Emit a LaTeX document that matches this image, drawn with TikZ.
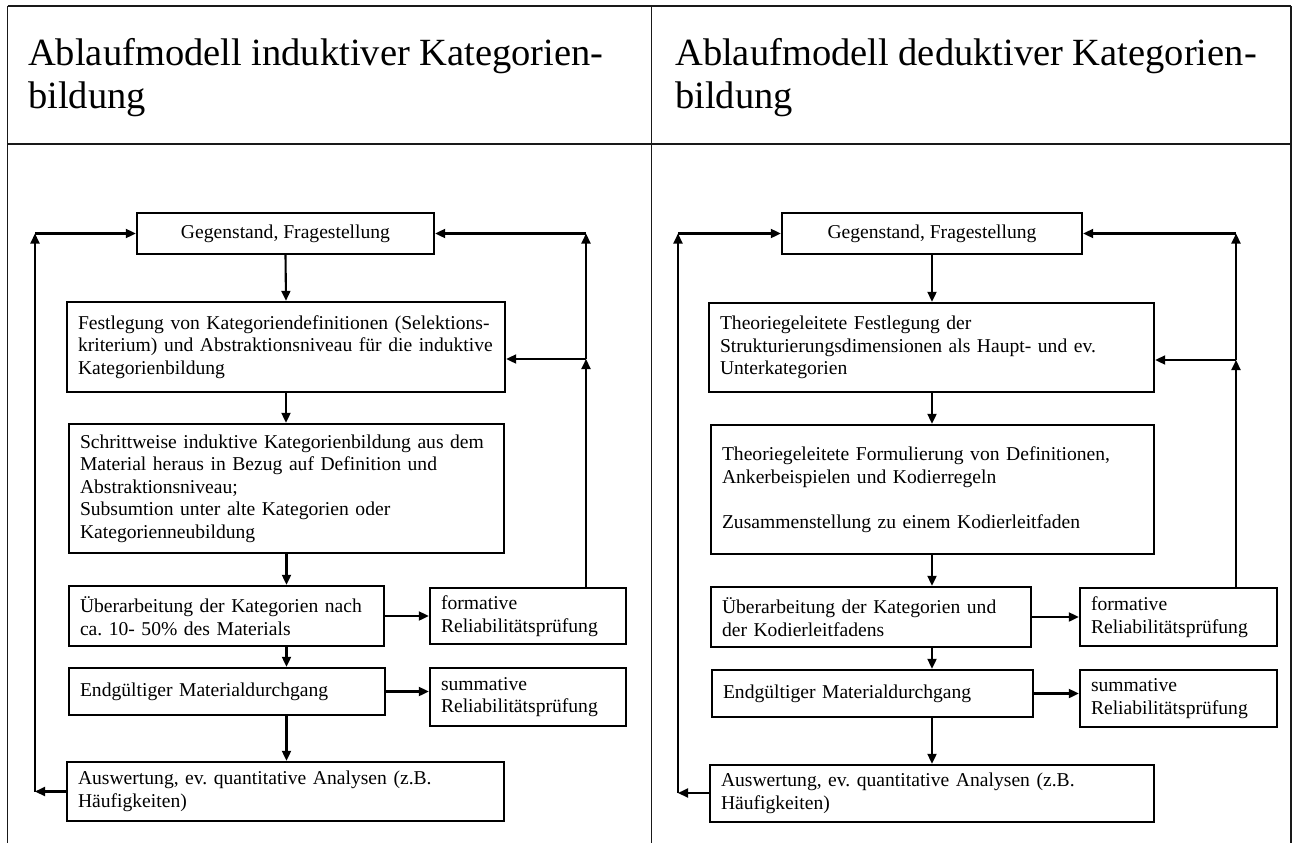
\documentclass[tikz,border=0pt]{standalone}
\usepackage{fontspec}
\setmainfont{Liberation Serif}
\usetikzlibrary{arrows.meta,calc}
\lefthyphenmin=62
\hyphenpenalty=10000
\exhyphenpenalty=10000
\hbadness=10000
\hfuzz=50pt
\frenchspacing
\tikzset{
  box/.style={draw, line width=2.4pt, inner xsep=11pt, inner ysep=0pt, align=left,
    font=\fontsize{19.6}{22.5}\selectfont},
  cbox/.style={draw, line width=2.4pt, inner sep=0pt, align=center,
    font=\fontsize{19.6}{22.5}\selectfont},
  con/.style={line width=2.1pt, -{Triangle[length=10pt,width=9pt]}},
  rule/.style={line width=1.6pt, draw=black!90},
  title/.style={anchor=north west, inner sep=0pt, align=left,
    font=\fontsize{38.5}{43}\selectfont}
}
\newcommand\bx[7][box]{%
  \pgfmathsetmacro\bw{#5-#3}%
  \pgfmathsetmacro\bh{#6-#4}%
  \pgfmathsetmacro\tw{#5-#3-22}%
  \pgfmathsetmacro\cx{(#3+#5)/2}%
  \pgfmathsetmacro\cy{(#4+#6)/2}%
  \node[#1, minimum width=\bw pt, minimum height=\bh pt, text width=\tw pt] (#2) at (\cx,\cy) {#7};}
\newcommand\cbx[6]{%
  \pgfmathsetmacro\bw{#4-#2}%
  \pgfmathsetmacro\bh{#5-#3}%
  \pgfmathsetmacro\cx{(#2+#4)/2}%
  \pgfmathsetmacro\cy{(#3+#5)/2}%
  \node[cbox, minimum width=\bw pt, minimum height=\bh pt] (#1) at (\cx,\cy) {#6};}
\begin{document}
\begin{tikzpicture}[x=1pt,y=-1pt]
\useasboundingbox (0,0) rectangle (1293,843);
% table
\coordinate (tl) at (7.5,6);
\coordinate (tr) at (1291,6);
\coordinate (tm) at (651.5,6);
\coordinate (bl) at (7.5,843);
\coordinate (br) at (1291,843);
\coordinate (bm) at (651.5,843);
\coordinate (hl) at (7.5,144);
\coordinate (hr) at (1291,144);
\draw[rule] (tl) -- (tr);
\draw[rule] (hl) -- (hr);
\draw[rule] (tl) -- (bl);
\draw[rule] (tm) -- (bm);
\draw[rule] (tr) -- (br);
\node[title] (t1) at (28,38) {Ablaufmodell induktiver Kategorien-\\bildung};
\node[title] (t2) at (675,38) {Ablaufmodell deduktiver Kategorien-\\bildung};

% ---------------- left diagram
\cbx{g1}{137}{213}{434}{254}{Gegenstand, Fragestellung}
\bx{f1}{67}{302}{505}{392}{Festlegung~von~Kategoriendefinitionen~(Selektions-\\kriterium)~und~Abstraktionsniveau~für~die~induktive\\Kategorienbildung}
\bx{s1}{69}{424}{504}{553}{Schrittweise~induktive~Kategorienbildung~aus~dem\\Material heraus in Bezug auf Definition und\\Abstraktionsniveau;\\Subsumtion unter alte Kategorien oder\\Kategorienneubildung}
\bx{u1}{69}{586}{384}{646}{Überarbeitung der Kategorien nach\\ca. 10- 50\% des Materials}
\bx{fo1}{430}{588}{626}{644}{formative\\Reliabilitätsprüfung}
\bx{e1}{69}{668}{385}{715}{Endgültiger Materialdurchgang}
\bx{su1}{430}{668}{626}{726}{summative\\Reliabilitätsprüfung}
\bx{a1}{67}{762}{504}{821}{Auswertung, ev. quantitative Analysen (z.B.\\Häufigkeiten)}

\coordinate (L1b) at (35,791.5);
\coordinate (L1t) at (35,233.5);
\coordinate (R1b) at (586,588);
\coordinate (R1m) at (586,359);
\coordinate (R1t) at (586,233.5);

\draw[con] (g1.south) -- (f1.north);
\draw[con] (f1.south) -- (f1.south |- s1.north);
\draw[con] (s1.south) -- (s1.south |- u1.north);
\draw[con] (u1.south -| s1.south) -- (s1.south |- e1.north);
\draw[con] (s1.south |- e1.south) -- (s1.south |- a1.north);
\draw[con] (u1.east) -- (u1.east -| fo1.west);
\draw[con] (e1.east) -- (e1.east -| su1.west);
\draw[con] (a1.west |- L1b) -- (L1b);
\draw[con] (L1b) -- (L1t);
\draw[con] (L1t) -- (g1.west);
\draw[con] (R1b) -- (R1m);
\draw[con] (R1m) -- (R1m -| f1.east);
\draw[con] (R1m) -- (R1t);
\draw[con] (R1t) -- (g1.east);

% ---------------- right diagram
\cbx{g2}{782}{213}{1082}{254}{Gegenstand, Fragestellung}
\bx{f2}{709}{303}{1154}{392}{Theoriegeleitete Festlegung der\\Strukturierungsdimensionen~als~Haupt-~und~ev.\\Unterkategorien}
\bx{s2}{711}{425}{1154}{554}{Theoriegeleitete~Formulierung~von~Definitionen,\\Ankerbeispielen und Kodierregeln\\[22.5pt]Zusammenstellung zu einem Kodierleitfaden}
\bx{u2}{711}{587}{1031}{647}{Überarbeitung der Kategorien und\\der Kodierleitfadens}
\bx{fo2}{1080}{588}{1277}{646}{formative\\Reliabilitätsprüfung}
\bx{e2}{712}{670}{1033}{717}{Endgültiger Materialdurchgang}
\bx{su2}{1080}{670}{1277}{727}{summative\\Reliabilitätsprüfung}
\bx{a2}{710}{765}{1154}{822}{Auswertung, ev. quantitative Analysen (z.B.\\Häufigkeiten)}

\coordinate (L2b) at (678,793);
\coordinate (L2t) at (678,233.5);
\coordinate (R2b) at (1236,588);
\coordinate (R2m) at (1236,360);
\coordinate (R2t) at (1236,233.5);

\draw[con] (g2.south) -- (g2.south |- f2.north);
\draw[con] (g2.south |- f2.south) -- (g2.south |- s2.north);
\draw[con] (g2.south |- s2.south) -- (g2.south |- u2.north);
\draw[con] (g2.south |- u2.south) -- (g2.south |- e2.north);
\draw[con] (g2.south |- e2.south) -- (g2.south |- a2.north);
\draw[con] (u2.east) -- (u2.east -| fo2.west);
\draw[con] (e2.east) -- (e2.east -| su2.west);
\draw[con] (a2.west |- L2b) -- (L2b);
\draw[con] (L2b) -- (L2t);
\draw[con] (L2t) -- (g2.west);
\draw[con] (R2b) -- (R2m);
\draw[con] (R2m) -- (R2m -| f2.east);
\draw[con] (R2m) -- (R2t);
\draw[con] (R2t) -- (g2.east);
\end{tikzpicture}
\end{document}
